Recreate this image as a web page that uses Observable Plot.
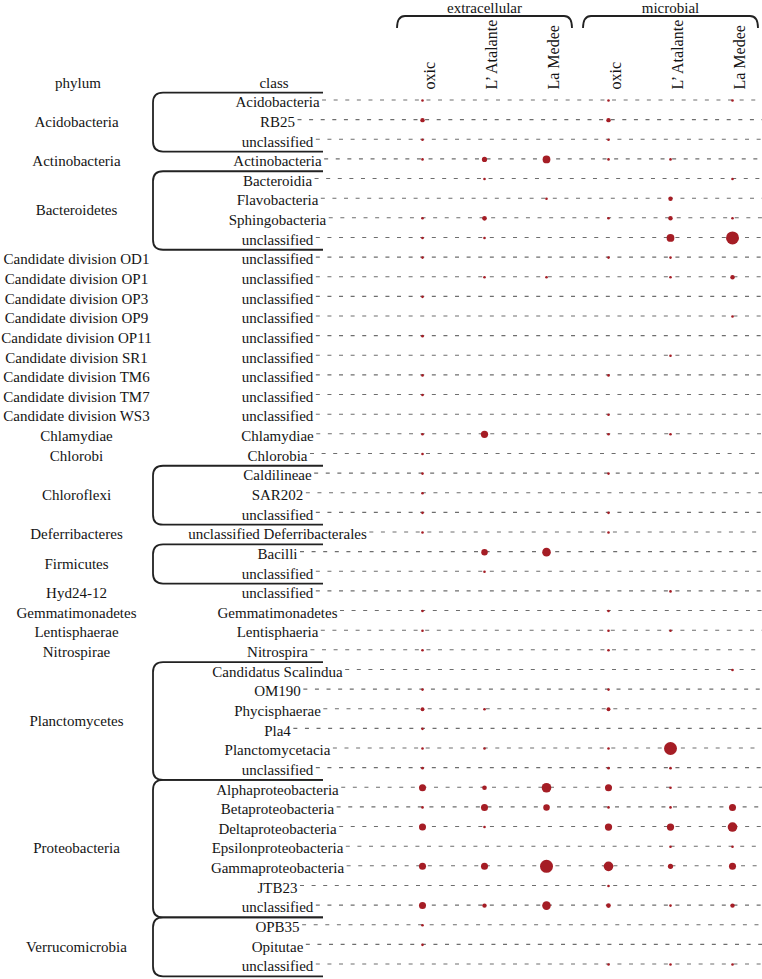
<!DOCTYPE html>
<html><head><meta charset="utf-8">
<script src="https://cdn.jsdelivr.net/npm/d3@7"></script>
<script src="https://cdn.jsdelivr.net/npm/@observablehq/plot@0.6"></script>
<style>html,body{margin:0;padding:0;background:#fff} svg{display:block}</style>
</head><body><div id="chart"></div>
<script>
// ---------- data ----------
const fractions = ["extracellular", "microbial"];
const sites = ["oxic", "L’ Atalante", "La Medee"];

const phylumOf = [
  "Acidobacteria","Acidobacteria","Acidobacteria",
  "Actinobacteria",
  "Bacteroidetes","Bacteroidetes","Bacteroidetes","Bacteroidetes",
  "Candidate division OD1","Candidate division OP1","Candidate division OP3","Candidate division OP9",
  "Candidate division OP11","Candidate division SR1","Candidate division TM6","Candidate division TM7",
  "Candidate division WS3",
  "Chlamydiae","Chlorobi",
  "Chloroflexi","Chloroflexi","Chloroflexi",
  "Deferribacteres",
  "Firmicutes","Firmicutes",
  "Hyd24-12","Gemmatimonadetes","Lentisphaerae","Nitrospirae",
  "Planctomycetes","Planctomycetes","Planctomycetes","Planctomycetes","Planctomycetes","Planctomycetes",
  "Proteobacteria","Proteobacteria","Proteobacteria","Proteobacteria","Proteobacteria","Proteobacteria","Proteobacteria",
  "Verrucomicrobia","Verrucomicrobia","Verrucomicrobia"
];
const classes = [
  "Acidobacteria","RB25","unclassified",
  "Actinobacteria",
  "Bacteroidia","Flavobacteria","Sphingobacteria","unclassified",
  "unclassified","unclassified","unclassified","unclassified",
  "unclassified","unclassified","unclassified","unclassified",
  "unclassified",
  "Chlamydiae","Chlorobia",
  "Caldilineae","SAR202","unclassified",
  "unclassified Deferribacterales",
  "Bacilli","unclassified",
  "unclassified","Gemmatimonadetes","Lentisphaeria","Nitrospira",
  "Candidatus Scalindua","OM190","Phycisphaerae","Pla4","Planctomycetacia","unclassified",
  "Alphaproteobacteria","Betaproteobacteria","Deltaproteobacteria","Epsilonproteobacteria","Gammaproteobacteria","JTB23","unclassified",
  "OPB35","Opitutae","unclassified"
];
// relative abundance (%) per class, one array per column
const extOxic      = [1,2.9,1, 1, 0,0,1,1, 1,0,1,0, 1,0,1,1, 0, 1,1, 1,1,1, 1, 0,0, 0,1,1,1, 0,1,2.25,1,1,1, 7.3,1,7.3,0,7.3,0,7.3, 1,1,0];
const extAtalante  = [0,0,0, 4, 1,0,3.2,1, 0,1,0,0, 0,0,0,0, 0, 7.8,0, 0,0,0, 0, 6.25,1, 0,0,0,0, 0,0,1,0,1,0, 3.2,7.3,1,0,7.3,0,2.9, 0,0,0];
const extMedee     = [0,0,0, 9, 0,1,0,0, 0,1,0,0, 0,0,0,0, 0, 0,0, 0,0,0, 0, 11,0, 0,0,0,0, 0,0,0,0,0,0, 13.7,6.25,0,0,25,0,11, 0,0,0];
const micOxic      = [1,2.9,1, 1, 0,0,1,0, 1,0,0,0, 0,0,1,0, 1, 1,0, 1,0,1, 1, 0,0, 0,1,1,1, 0,1,2.25,0,1,1, 7.3,1,7.8,0,13.7,1,3.2, 0,0,1];
const micAtalante  = [0,0,0, 1, 0,2.9,2.9,9, 1,1,0,0, 0,1,0,0, 0, 1,0, 0,0,0, 0, 0,0, 1,0,1,0, 0,0,0,0,25,1, 1,1,7.8,1,4,0,1, 0,0,1];
const micMedee     = [1,0,0, 0, 1,0,1,25, 0,2.9,0,1, 0,0,0,0, 0, 0,0, 0,0,0, 0, 0,0, 0,0,0,0, 1,0,0,0,0,0, 0,7.3,13.7,1,7.3,0,2.9, 0,0,1];

// ---------- derived tables ----------
const columns = fractions.flatMap(f => sites.map(s => f + "|" + s));
const seriesByColumn = [extOxic, extAtalante, extMedee, micOxic, micAtalante, micMedee];
const cells = [];
columns.forEach((c, j) => seriesByColumn[j].forEach((v, i) => { if (v > 0) cells.push({col: c, row: i, value: v}); }));
const groups = [];
phylumOf.forEach((p, i) => {
  const g = groups[groups.length - 1];
  if (g && g.name === p) g.end = i; else groups.push({name: p, start: i, end: i});
});

// ---------- layout / style ----------
const FONT = "'Liberation Serif', 'Times New Roman', Times, serif";
const FS = 15;
const L = {classX: 277, phylumX: 76, bracketLeft: 153, bracketRight: 323, radius: 10,
           headerY: 83, colLabelY: 89, groupTop: 16, groupBottom: 24, groupLabelY: 13};
const DOT = "#a51d25";
const INK = "#141414";
const ctx = document.createElement("canvas").getContext("2d");
ctx.font = `${FS}px "Liberation Serif"`;
const textWidth = t => ctx.measureText(t).width;

function decor(index, scales, values, dimensions) {
  const {x, y} = scales;
  const step = y(1) - y(0);
  const g = d3.create("svg:g");
  // dashed row guides
  g.append("g").attr("fill", "none").attr("stroke", "#6e6e6e").attr("stroke-width", 1.1)
    .attr("stroke-dasharray", "4,7.6")
    .selectAll("line").data(classes).join("line")
    .attr("x1", d => L.classX + textWidth(d) / 2 + 3)
    .attr("x2", dimensions.width)
    .attr("y1", (d, i) => y(i)).attr("y2", (d, i) => y(i));
  // phylum brackets
  const r = L.radius, x0 = L.bracketLeft, x1 = L.bracketRight;
  g.append("g").attr("fill", "none").attr("stroke", "#222").attr("stroke-width", 1.8)
    .selectAll("path").data(groups.filter(d => d.end > d.start)).join("path")
    .attr("d", d => {
      const t = y(d.start) - step / 2 + 2.5, b = y(d.end) + step / 2 + 2.5;
      return `M${x1},${t}H${x0 + r}Q${x0},${t} ${x0},${t + r}V${b - r}Q${x0},${b} ${x0 + r},${b}H${x1}`;
    });
  // column-group brackets and labels
  const hg = g.append("g");
  fractions.forEach(f => {
    const cols = columns.filter(c => c.startsWith(f + "|"));
    const xa = x(cols[0]) - 25, xb = x(cols[cols.length - 1]) + 26, r2 = 8;
    hg.append("path").attr("fill", "none").attr("stroke", "#222").attr("stroke-width", 1.8)
      .attr("d", `M${xa},${L.groupBottom + 4}Q${xa},${L.groupTop} ${xa + r2},${L.groupTop}H${xb - r2}Q${xb},${L.groupTop} ${xb},${L.groupBottom + 4}`);
    hg.append("text").attr("x", (xa + xb) / 2).attr("y", L.groupLabelY)
      .attr("text-anchor", "middle").attr("font-size", FS).attr("fill", INK).text(f);
  });
  // row-header titles
  [["phylum", L.phylumX + 2], ["class", L.classX - 3]].forEach(([t, px]) => {
    hg.append("text").attr("x", px).attr("y", L.headerY + 5)
      .attr("text-anchor", "middle").attr("font-size", FS).attr("fill", INK).text(t);
  });
  return g.node();
}

const chart = Plot.plot({
  width: 762,
  height: 979,
  margin: 0,
  style: {fontFamily: FONT, fontSize: FS + "px", background: "#fff", overflow: "visible"},
  x: {type: "point", domain: columns, range: [420, 733.5], padding: 0, axis: null},
  y: {type: "linear", domain: [0, classes.length - 1], range: [100, 964], axis: null},
  r: {type: "sqrt", domain: [0, 25], range: [0, 6.5]},
  marks: [
    decor,
    Plot.dot(cells, {x: "col", y: "row", r: "value", fill: DOT}),
    Plot.text(classes, {y: (d, i) => i, text: d => d, frameAnchor: "left", dx: L.classX, dy: 2,
      textAnchor: "middle", fontSize: FS, fill: INK}),
    Plot.text(groups, {y: d => (d.start + d.end) / 2, text: "name", frameAnchor: "left", dx: L.phylumX, dy: 2,
      textAnchor: "middle", fontSize: FS, fill: INK}),
    Plot.text(columns, {x: d => d, text: d => d.split("|")[1], frameAnchor: "top", dy: L.colLabelY, dx: 1,
      rotate: -90, textAnchor: "start", fontSize: 16, fill: INK})
  ]
});
document.getElementById("chart").append(chart);
</script>
</body></html>
